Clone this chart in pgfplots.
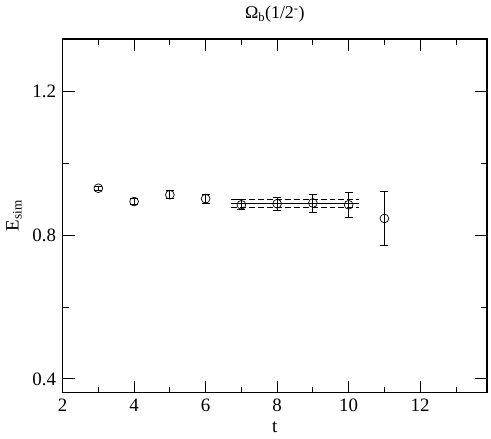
\documentclass[border=0pt]{standalone}
\usepackage{fontspec}
\setmainfont{Liberation Serif}
\usepackage{pgfplots}
\pgfplotsset{compat=1.18}

\begin{document}
\fontsize{19}{22}\selectfont
\begin{tikzpicture}
\begin{axis}[
	scale only axis,
	width=425bp,
	height=354bp,
	xmin=2, xmax=13.87,
	ymin=0.362, ymax=1.345,
	xtick={2,4,...,12},
	minor xtick={3,5,...,13},
	ytick={0.4,0.8,1.2},
	minor ytick={0.6,1.0},
	yticklabel style={/pgf/number format/fixed,/pgf/number format/precision=1},
	/pgf/number format/assume math mode=true,
	tick align=inside,
	major tick length=12bp,
	minor tick length=6bp,
	tick style={black, line width=0.8pt},
	axis line style={line width=1.2pt},
	xlabel={t},
	ylabel={E\textsubscript{sim}},
	xlabel style={yshift=3bp},
	ylabel style={yshift=-2bp},
	title={\fontsize{18}{20}\selectfont Ω\textsubscript{b}(1/2\textsuperscript{-})},
	title style={yshift=4bp},
	clip=false,
]
\addplot[black, line width=0.7pt, mark=o, mark size=4.4pt, only marks,
	error bars/.cd, y dir=both, y explicit,
	error bar style={line width=0.8pt},
	error mark options={rotate=90, mark size=4pt, line width=0.8pt}]
	table[x=t, y=e, y error=d] {
	t  e      d
	3  0.930  0.006
	4  0.893  0.009
	5  0.912  0.011
	6  0.901  0.013
	7  0.884  0.014
	8  0.887  0.018
	9  0.889  0.025
	10 0.884  0.035
	11 0.846  0.075
	};
\addplot[black, line width=0.8pt] coordinates {(6.7,0.888) (10.3,0.888)};
\addplot[black, line width=0.8pt, dash pattern=on 6bp off 3bp] coordinates {(6.7,0.898) (10.3,0.898)};
\addplot[black, line width=0.8pt, dash pattern=on 6bp off 3bp] coordinates {(6.7,0.878) (10.3,0.878)};
\end{axis}
\path (current axis.east) ++(4bp,0);
\end{tikzpicture}
\end{document}
